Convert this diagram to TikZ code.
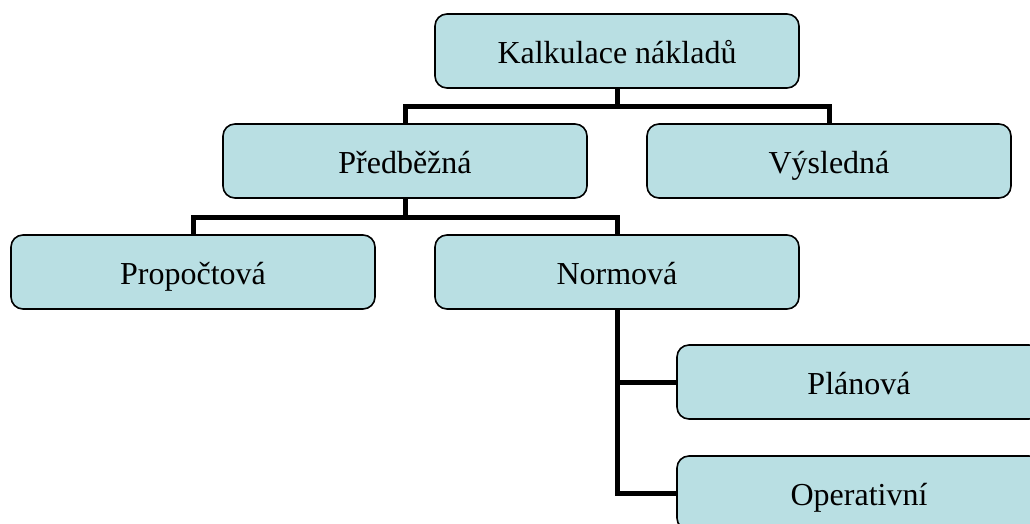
\documentclass[tikz,border=0pt]{standalone}
\usepackage{fontspec}
\setmainfont{Liberation Serif}
\definecolor{boxfill}{HTML}{B9DFE3}
\tikzset{
  orgbox/.style={draw=black, line width=1.6pt, fill=boxfill, rounded corners=12pt,
    minimum width=364pt, minimum height=74pt, inner sep=0pt,
    text height=28pt, text depth=4pt,
    font=\fontsize{32}{38}\selectfont},
  conn/.style={draw=black, line width=5pt, line join=miter}
}
\begin{document}
\begin{tikzpicture}[x=1pt,y=1pt]
\useasboundingbox (0,0) rectangle (1030,-523);
\clip (0,0) rectangle (1030,-523);
\coordinate (j1) at (617,-106);
\coordinate (j2) at (405,-217);
\node[orgbox] (K)  at (617,-51)  {Kalkulace nákladů};
\node[orgbox] (P)  at (405,-161) {Předběžná};
\node[orgbox] (V)  at (829,-161) {Výsledná};
\node[orgbox] (Pr) at (193,-272) {Propočtová};
\node[orgbox] (N)  at (617,-272) {Normová};
\node[orgbox] (Pl) at (859,-382) {Plánová};
\node[orgbox] (O)  at (859,-493) {Operativní};
\draw[conn] (K.south) -- (j1);
\draw[conn] (P.north) |- (j1) -| (V.north);
\draw[conn] (P.south) -- (j2);
\draw[conn] (Pr.north) |- (j2) -| (N.north);
\draw[conn] (N.south) |- (O.west);
\draw[conn] (N.south |- Pl.west) -- (Pl.west);
\end{tikzpicture}
\end{document}
